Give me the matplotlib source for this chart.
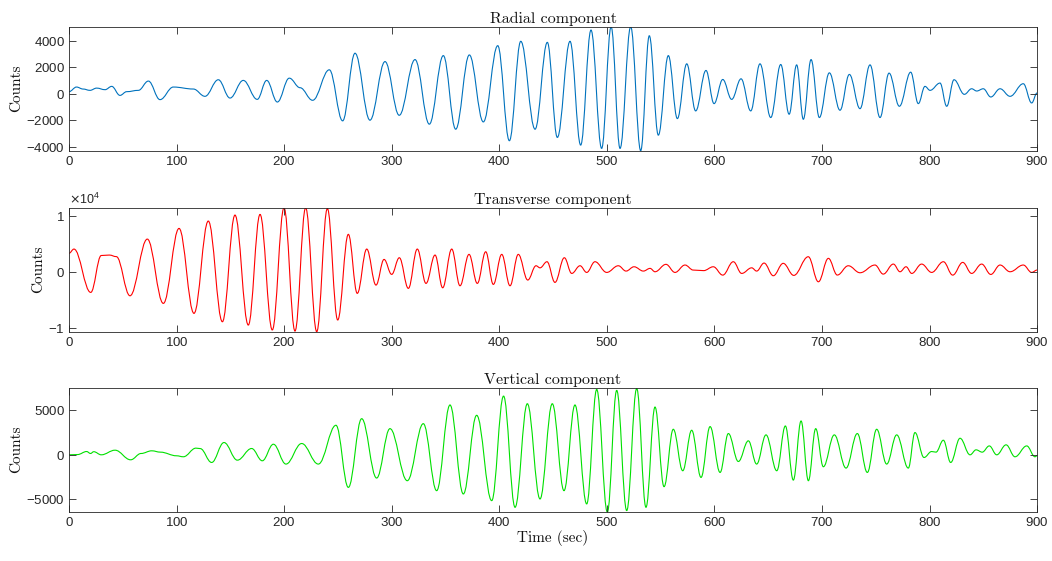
import matplotlib
matplotlib.use("Agg")
import matplotlib.pyplot as plt
from matplotlib.path import Path
from matplotlib.patches import PathPatch
from matplotlib.ticker import ScalarFormatter

# peak / trough readings (time in s, counts) taken off the seismograms
radial = [
    (0, 150), (7, 500), (13, 350), (19.5, 250), (25.7, 420), (33.5, 300), (39.7, 550),
    (47.4, -130), (53.6, 150), (64.5, 250), (73.8, 950), (84.6, -450), (97, 500),
    (115.6, 350), (126.4, -200), (138.8, 1050), (149.7, -330), (162, 1000), (175, -430),
    (183.8, 1000), (193.7, -630), (204.8, 1170), (214.8, 450), (226.5, -500), (242, 1800),
    (254.4, -2050), (265.9, 3050), (279.8, -2000), (293.8, 2420), (307, -1630),
    (321.7, 2570), (335, -2300), (348, 2870), (359.5, -2680), (372.2, 2920),
    (385.2, -2130), (398.6, 3620), (409.4, -3550), (420, 3950), (433.3, -2680),
    (444.7, 3870), (454, -3300), (465.8, 3950), (475.7, -3880), (485.3, 4800),
    (495.2, -4130), (504, 5050), (512.3, -4130), (522.2, 5050), (531.5, -4300),
    (539.5, 4370), (547.9, -3130), (557.2, 2870), (565.6, -1880), (574.3, 2250),
    (582.6, -1300), (592.2, 1750), (599.7, -750), (607.8, 1070), (616.1, -430),
    (624.8, 1120), (633.8, -1300), (642.4, 2250), (652.4, -1800), (661.7, 2200),
    (669.5, -1550), (676.5, 2170), (682.7, -1930), (689.9, 2570), (697.6, -1800),
    (706.9, 1570), (716.8, -1250), (725.5, 1450), (735.4, -1130), (744.7, 2170),
    (754, -1800), (762.4, 1550), (772, -950), (782.5, 1620), (789.6, -750), (795.8, 550),
    (800.5, 250), (809.8, 800), (816, -950), (822.8, 1050), (832.4, -50), (839.2, 370),
    (843.9, 200), (850, 370), (857, -250), (865.6, 370), (874.9, -200), (887.2, 750),
    (895, -700), (900, 50),
]

transverse = [
    (0, 3300), (4.6, 4050), (20.2, -3690), (30, 2900), (37.5, 2980), (44, 2700),
    (56.7, -4290), (72.8, 5830), (87.7, -5650), (102.3, 7740), (116.2, -7430),
    (129.5, 9050), (142.6, -8930), (154.3, 10120), (166.7, -9520), (177.6, 10240),
    (189, -10400), (199.9, 11430), (210.1, -10600), (220, 11430), (230.3, -10700),
    (240.2, 11300), (249.8, -8620), (259.7, 6680), (268, -3860), (276.8, 4050),
    (285.4, -2380), (292.9, 2200), (300, -470), (307.1, 2500), (315.5, -2970),
    (323.8, 4050), (331.9, -2080), (340.3, 2980), (347.4, -2860), (355.8, 4050),
    (363.5, -2500), (371.9, 3100), (379.6, -2080), (387.4, 3570), (394.5, -2260),
    (402.3, 3100), (410, -2500), (417.7, 3100), (426.5, -1480), (434.2, 1070),
    (437.9, 700), (444.4, 1790), (451.8, -1900), (460.5, 2500), (467.4, -300),
    (475.1, 1070), (481.3, -120), (489, 1790), (499.9, -120), (510.7, 1070),
    (517.9, 120), (525.3, 890), (534, 120), (540.2, 600), (544.8, 0), (555, 1320),
    (563.4, -120), (572.7, 1200), (580.4, 300), (590, 200), (599, 890), (607.8, -600),
    (617.6, 1790), (625.4, -300), (634.7, 700), (639.3, 120), (646.2, 1550),
    (654.8, -710), (664, 1500), (673.8, -650), (687.3, 2680), (696.7, -1790),
    (706, 2390), (714.3, -590), (724.5, 1070), (735.4, -180), (749.3, 1200),
    (757, -420), (766.4, 1370), (772.6, 0), (778.2, 890), (783.5, -300), (792.7, 1370),
    (802, -120), (812.9, 1790), (821.6, -600), (830.9, 1670), (839.2, -300),
    (848.5, 1370), (857, -480), (865.6, 1200), (874.9, 0), (887.2, 1200), (895, -120),
    (900, 300),
]

vertical = [
    (0, 0), (8, 30), (16.4, 370), (20, 150), (23, 350), (30, 0), (42.8, 520),
    (57.3, -560), (67, 150), (76.9, 450), (85, 300), (100, -110), (106.3, -220),
    (118, 750), (122, 700), (132.6, -860), (144.1, 1380), (156.5, -600), (169.8, 710),
    (179.7, -670), (190, 1190), (201.7, -1040), (216.3, 1270), (231.8, -1040),
    (248.2, 3320), (259.7, -3660), (272.1, 4060), (286, -2610), (298.4, 2940),
    (314.5, -2910), (329.4, 3500), (341.8, -4030), (354.2, 5600), (366.6, -4400),
    (379, 4440), (393, -5150), (404, 6600), (414.7, -5900), (426.1, 5740),
    (437.9, -4960), (449.3, 5740), (460.2, -4030), (470.4, 5600), (481.3, -5520),
    (490.6, 7350), (500.5, -6450), (509.2, 7240), (518.5, -6270), (527.8, 7460),
    (536.4, -5900), (544.8, 5370), (553.2, -3580), (561.8, 2870), (570.6, -1790),
    (578.9, 2760), (587.6, -2540), (596, 3170), (605.3, -1980), (613, 2390),
    (622.3, -750), (631.6, 1570), (639.3, -1040), (648, 2240), (658, -1790),
    (666, 3240), (673.4, -2840), (680.6, 3800), (687.4, -2910), (694.2, 2940),
    (701.3, -1340), (711.5, 2240), (722.4, -1490), (732.9, 2390), (742.2, -1980),
    (750.9, 2870), (760.2, -1040), (769.5, 2240), (780.3, -1490), (786.5, 2500),
    (794.9, -300), (802, 370), (806, 300), (812.9, 1640), (819.7, -860), (828.4, 1860),
    (837.7, 0), (843.3, 560), (849, 300), (855.6, 1000), (862.5, 0), (871.2, 1120),
    (879.5, -220), (890.4, 1000), (898.1, -220), (900, -100),
]

titles = ["Radial component", "Transverse component", "Vertical component"]
colors = ["#0072BD", "#ff0000", "#00e000"]
ylims = [(-4300, 5050), (-10710, 11430), (-6390, 7540)]
yticks = [[-4000, -2000, 0, 2000, 4000], [-10000, 0, 10000], [-5000, 0, 5000]]
xticks = list(range(0, 901, 100))


def trace_path(data):
    # draw the trace through the read extrema as a smooth curve
    # (bezier segments, flat at every peak and trough)
    verts = [data[0]]
    codes = [Path.MOVETO]
    for (t0, v0), (t1, v1) in zip(data[:-1], data[1:]):
        dt = (t1 - t0) / 2.6
        verts += [(t0 + dt, v0), (t1 - dt, v1), (t1, v1)]
        codes += [Path.CURVE4] * 3
    return Path(verts, codes)


serif = "cmr10"
plt.rcParams["font.family"] = ["Liberation Sans", "DejaVu Sans"]
plt.rcParams["axes.formatter.use_mathtext"] = True

fig = plt.figure(figsize=(10.52, 5.61), dpi=100)
left, width, height = 0.0656, 0.9202, 0.221
bottoms = [0.7314, 0.4087, 0.0879]
edge = "#262626"

for i, data in enumerate([radial, transverse, vertical]):
    ax = fig.add_axes([left, bottoms[i], width, height])
    ax.add_patch(PathPatch(trace_path(data), fill=False, edgecolor=colors[i], lw=0.8))
    ax.set_xlim(0, 900)
    ax.set_ylim(*ylims[i])
    ax.set_xticks(xticks)
    ax.set_yticks(yticks[i])
    ax.tick_params(direction="in", top=True, right=True, length=5, width=0.6,
                   labelsize=9.5, colors=edge, pad=3)
    for s in ax.spines.values():
        s.set_color(edge)
        s.set_linewidth(0.6)
    ax.set_title(titles[i], fontfamily=serif, fontsize=11.5, pad=3, color="#111111")
    ax.set_ylabel("Counts", fontfamily=serif, fontsize=11, labelpad=2, color="#111111")
    if i == 1:
        fmt = ScalarFormatter(useMathText=True)
        fmt.set_powerlimits((0, 0))
        ax.yaxis.set_major_formatter(fmt)
        ax.yaxis.get_offset_text().set_fontsize(9)
        ax.yaxis.get_offset_text().set_color(edge)
    if i == 2:
        ax.set_xlabel("Time (sec)", fontfamily=serif, fontsize=11, labelpad=1,
                      color="#111111")

fig.savefig("out.png", dpi=100)
